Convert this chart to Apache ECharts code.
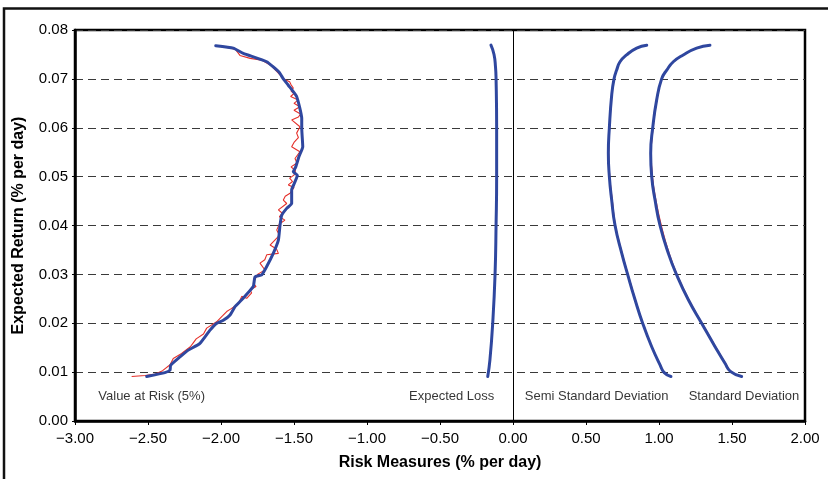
<!DOCTYPE html>
<html>
<head>
<meta charset="utf-8">
<script src="https://cdn.jsdelivr.net/npm/echarts@6/dist/echarts.min.js"></script>
<style>
  html, body { margin: 0; padding: 0; background: #fff; }
  #chart { width: 828px; height: 479px; }
</style>
</head>
<body>
<div id="chart"></div>
<script>
// Efficient frontiers: expected return (% per day) against four risk measures.
// Each pair is [risk measure, expected return].

const xTicks = [-3, -2.5, -2, -1.5, -1, -0.5, 0, 0.5, 1, 1.5, 2];
const yTicks = [0, 0.01, 0.02, 0.03, 0.04, 0.05, 0.06, 0.07, 0.08];

// Value at Risk (5%) — smoothed frontier
const varSmooth = [
  [-2.036,0.0768],[-1.916,0.0763],[-1.847,0.0752],[-1.687,0.0735],[-1.603,0.0714],
  [-1.573,0.0700],[-1.539,0.0687],[-1.482,0.0664],[-1.447,0.0619],[-1.447,0.0599],
  [-1.440,0.0561],[-1.466,0.0541],[-1.488,0.0520],[-1.505,0.0510],[-1.477,0.0503],
  [-1.498,0.0486],[-1.516,0.0473],[-1.516,0.0445],[-1.550,0.0435],[-1.584,0.0421],
  [-1.596,0.0400],[-1.607,0.0370],[-1.642,0.0343],[-1.687,0.0316],[-1.721,0.0299],
  [-1.767,0.0295],[-1.779,0.0275],[-1.858,0.0248],[-1.904,0.0234],[-1.938,0.0217],
  [-1.984,0.0206],[-2.029,0.0200],[-2.075,0.0186],[-2.144,0.0159],[-2.224,0.0145],
  [-2.281,0.0131],[-2.345,0.0114],[-2.349,0.0104],[-2.384,0.0099],[-2.509,0.0091]
];
// Value at Risk (5%) — raw frontier
const varRaw = [
  [-2.036,0.0768],[-1.950,0.0764],[-1.900,0.0760],[-1.870,0.0748],[-1.800,0.0742],
  [-1.720,0.0738],[-1.660,0.0728],[-1.620,0.0716],[-1.590,0.0706],[-1.575,0.0700],
  [-1.530,0.0694],[-1.520,0.0688],[-1.505,0.0681],[-1.520,0.0675],[-1.500,0.0670],
  [-1.523,0.0664],[-1.471,0.0657],[-1.500,0.0650],[-1.460,0.0643],[-1.500,0.0636],
  [-1.455,0.0628],[-1.470,0.0622],[-1.516,0.0616],[-1.459,0.0602],[-1.482,0.0589],
  [-1.470,0.0580],[-1.500,0.0570],[-1.516,0.0561],[-1.460,0.0551],[-1.493,0.0537],
  [-1.480,0.0528],[-1.520,0.0520],[-1.490,0.0512],[-1.500,0.0503],[-1.530,0.0497],
  [-1.510,0.0490],[-1.539,0.0483],[-1.500,0.0478],[-1.527,0.0466],[-1.560,0.0460],
  [-1.573,0.0452],[-1.550,0.0445],[-1.607,0.0432],[-1.580,0.0425],[-1.600,0.0418],
  [-1.562,0.0411],[-1.600,0.0403],[-1.618,0.0391],[-1.600,0.0380],[-1.664,0.0360],
  [-1.620,0.0352],[-1.607,0.0343],[-1.687,0.0340],[-1.700,0.0330],[-1.733,0.0323],
  [-1.699,0.0309],[-1.750,0.0300],[-1.779,0.0282],[-1.760,0.0275],[-1.801,0.0268],
  [-1.790,0.0262],[-1.824,0.0251],[-1.858,0.0255],[-1.880,0.0240],[-1.930,0.0230],
  [-1.961,0.0224],[-1.990,0.0215],[-2.030,0.0203],[-2.098,0.0190],[-2.120,0.0178],
  [-2.170,0.0168],[-2.190,0.0160],[-2.210,0.0152],[-2.270,0.0138],[-2.327,0.0128],
  [-2.349,0.0115],[-2.400,0.0103],[-2.450,0.0096],[-2.520,0.0093],[-2.612,0.0091]
];

// Expected Loss
const elSmooth = [
  [-0.151,0.0769],[-0.130,0.0750],[-0.120,0.0725],[-0.116,0.0700],[-0.112,0.0600],
  [-0.112,0.0500],[-0.116,0.0400],[-0.123,0.0299],[-0.139,0.0200],[-0.158,0.0125],
  [-0.173,0.0091]
];
const elRaw = [
  [-0.151,0.0769],[-0.131,0.0750],[-0.121,0.0725],[-0.116,0.0700],[-0.112,0.0600],
  [-0.113,0.0500],[-0.116,0.0400],[-0.123,0.0299],[-0.139,0.0200],[-0.158,0.0125],
  [-0.173,0.0091]
];

// Semi Standard Deviation
const ssdSmooth = [
  [0.916,0.0769],[0.847,0.0763],[0.778,0.0749],[0.733,0.0735],[0.710,0.0718],
  [0.692,0.0700],[0.676,0.0667],[0.660,0.0600],[0.653,0.0548],[0.660,0.0500],
  [0.676,0.0452],[0.699,0.0400],[0.745,0.0343],[0.786,0.0299],[0.836,0.0248],
  [0.888,0.0200],[0.950,0.0152],[1.007,0.0115],[1.036,0.0099],[1.082,0.0091]
];
const ssdRaw = [
  [0.916,0.0769],[0.849,0.0763],[0.779,0.0749],[0.735,0.0735],[0.711,0.0718],
  [0.693,0.0700],[0.677,0.0667],[0.662,0.0600],[0.655,0.0548],[0.663,0.0500],
  [0.680,0.0452],[0.702,0.0400],[0.748,0.0343],[0.789,0.0299],[0.839,0.0248],
  [0.890,0.0200],[0.952,0.0152],[1.009,0.0115],[1.039,0.0099],[1.084,0.0091]
];

// Standard Deviation
const sdSmooth = [
  [1.349,0.0769],[1.258,0.0763],[1.166,0.0749],[1.098,0.0735],[1.053,0.0718],
  [1.018,0.0700],[0.984,0.0657],[0.957,0.0600],[0.943,0.0548],[0.950,0.0500],
  [0.973,0.0452],[1.007,0.0400],[1.064,0.0343],[1.121,0.0299],[1.201,0.0248],
  [1.292,0.0200],[1.384,0.0152],[1.452,0.0118],[1.491,0.0101],[1.566,0.0091]
];
const sdRaw = [
  [1.349,0.0769],[1.260,0.0763],[1.168,0.0749],[1.100,0.0735],[1.055,0.0718],
  [1.020,0.0700],[0.986,0.0657],[0.960,0.0600],[0.947,0.0548],[0.955,0.0500],
  [0.979,0.0452],[1.016,0.0400],[1.070,0.0343],[1.125,0.0299],[1.205,0.0248],
  [1.296,0.0200],[1.388,0.0152],[1.456,0.0118],[1.496,0.0101],[1.570,0.0091]
];

// Curve captions, placed in data coordinates
const captions = [
  { text: 'Value at Risk (5%)', at: [-2.475, 0.0051] },
  { text: 'Expected Loss', at: [-0.420, 0.0051] },
  { text: 'Semi Standard Deviation', at: [0.573, 0.0051] },
  { text: 'Standard Deviation', at: [1.582, 0.0051] }
];

const FONT = '"Liberation Sans", Arial, Helvetica, sans-serif';
const BLUE = '#2f479f';
const RED = '#e5302a';

const fmt = v => (v < 0 ? '\u2212' + Math.abs(v).toFixed(2) : v.toFixed(2));

function rawLine(data, smooth) {
  return {
    type: 'line', data, showSymbol: false, symbol: 'none', smooth: smooth || false,
    lineStyle: { color: RED, width: 1.1 }, z: 3, silent: true, animation: false
  };
}
function smoothLine(data, smooth) {
  return {
    type: 'line', data, showSymbol: false, symbol: 'none', smooth: smooth || false,
    lineStyle: { color: BLUE, width: 3, join: 'round', cap: 'round' }, z: 4, silent: true, animation: false
  };
}

const chart = echarts.init(document.getElementById('chart'), null, { renderer: 'canvas' });

chart.setOption({
  animation: false,
  backgroundColor: '#fff',
  textStyle: { fontFamily: FONT },
  grid: {
    left: 75, top: 30, right: 23, bottom: 58,
    show: true, borderColor: '#000', borderWidth: 2.5, backgroundColor: 'transparent'
  },
  xAxis: {
    type: 'value', min: -3, max: 2, interval: 0.5,
    name: 'Risk Measures (% per day)', nameLocation: 'middle', nameGap: 34,
    nameTextStyle: { fontFamily: FONT, fontSize: 16, fontWeight: 'bold', color: '#000' },
    axisLine: { show: true, onZero: false, lineStyle: { color: '#000', width: 2.5 } },
    axisTick: { show: true, inside: false, length: 4, lineStyle: { color: '#000', width: 1 } },
    axisLabel: {
      show: true, margin: 10, fontFamily: FONT, fontSize: 15, color: '#000',
      formatter: v => fmt(v)
    },
    splitLine: { show: false }
  },
  yAxis: {
    type: 'value', min: 0, max: 0.08, interval: 0.01,
    name: 'Expected Return (% per day)', nameLocation: 'middle', nameGap: 48, nameRotate: 90,
    nameTextStyle: { fontFamily: FONT, fontSize: 16, fontWeight: 'bold', color: '#000' },
    axisLine: { show: true, onZero: false, lineStyle: { color: '#000', width: 2.5 } },
    axisTick: { show: true, inside: false, length: 3, lineStyle: { color: '#000', width: 1 } },
    axisLabel: {
      show: true, margin: 7, fontFamily: FONT, fontSize: 15, color: '#000',
      formatter: v => v.toFixed(2)
    },
    splitLine: { show: true, lineStyle: { color: '#3a3a3a', width: 1.2, type: [8, 5] } }
  },
  graphic: [{
    type: 'rect', silent: true, z: -1,
    shape: { x: 4, y: 8.5, width: 900, height: 600 },
    style: { fill: 'transparent', stroke: '#111', lineWidth: 2.5 }
  }],
  series: [
    // vertical reference line at zero risk
    {
      type: 'line', data: [], silent: true, animation: false,
      markLine: {
        silent: true, symbol: 'none', animation: false,
        label: { show: false },
        lineStyle: { color: '#000', width: 1, type: 'solid' },
        data: [{ xAxis: 0 }]
      }
    },
    rawLine(varRaw), smoothLine(varSmooth, 0.15),
    rawLine(elRaw, 0.5), smoothLine(elSmooth, 0.5),
    rawLine(ssdRaw, 0.5), smoothLine(ssdSmooth, 0.5),
    rawLine(sdRaw, 0.5), smoothLine(sdSmooth, 0.5),
    {
      type: 'scatter', symbolSize: 0, silent: true, animation: false, z: 5,
      data: captions.map(c => ({ value: c.at, name: c.text })),
      label: {
        show: true, position: 'inside', formatter: p => p.name,
        fontFamily: FONT, fontSize: 13, color: '#000'
      }
    }
  ]
});
</script>
</body>
</html>
